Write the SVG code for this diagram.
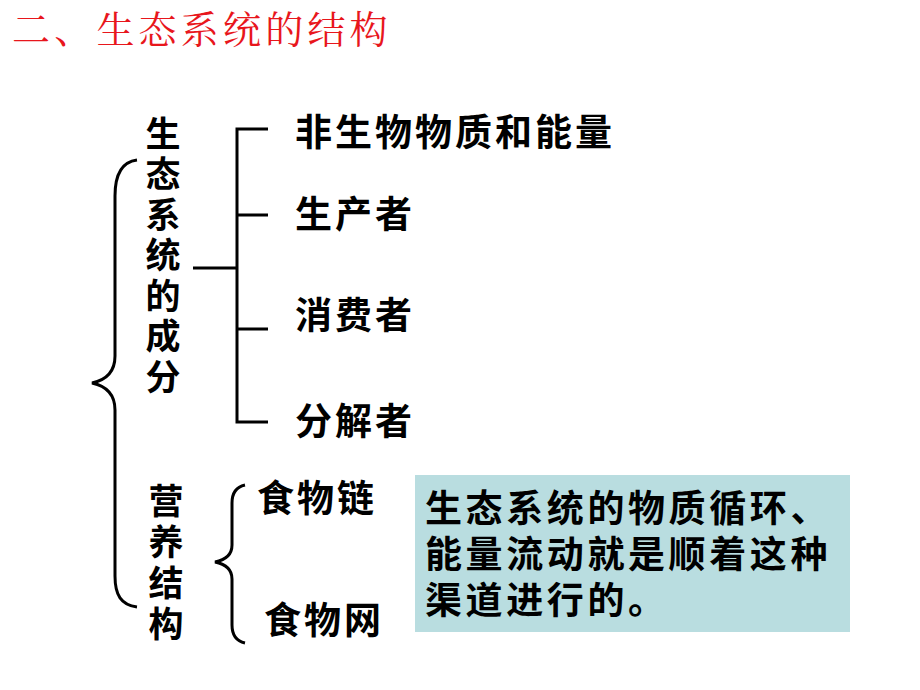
<svg xmlns="http://www.w3.org/2000/svg" width="920" height="690" viewBox="0 0 920 690">
<style>
.t{font-family:"Noto Sans CJK SC","Noto Sans CJK JP",sans-serif;font-weight:bold;fill:#000;font-size:37px;letter-spacing:3px}
.b{letter-spacing:3.6px}
.v{font-family:"Noto Sans CJK SC","Noto Sans CJK JP",sans-serif;font-weight:bold;fill:#000;font-size:35px;writing-mode:vertical-rl}
.title{font-family:"Noto Serif CJK SC","Noto Sans CJK SC",serif;fill:#e8161c;font-size:38px;letter-spacing:4.2px;font-weight:normal}
.ln{fill:none;stroke:#000;stroke-width:3}
</style>
<rect width="920" height="690" fill="#fff"/>
<g id="title"><text class="title" x="12" y="43">二、生态系统的结构</text></g>
<g id="connectors">
<path class="ln" d="M137,160 C121,162 115,175 115,196 L115,356 C115,372 106,380 92,383 C106,386 115,394 115,410 L115,576 C115,595 121,605 137,607"/>
<path class="ln" d="M193,268 L237,268 M268,129 L237,129 L237,422 L268,422 M237,215 L268,215 M237,329 L268,329"/>
<path class="ln" d="M245,485 C236,487 232,493 232,503 L232,545 C232,555 225,560 215,562 C225,564 232,569 232,579 L232,625 C232,635 236,641 245,643"/>
</g>
<g id="components"><text class="v" x="163" y="116" style="letter-spacing:5.5px">生态系统的成分</text></g>
<g id="trophic"><text class="v" x="166" y="483" style="letter-spacing:6px">营养结构</text></g>
<g id="abiotic"><text class="t" x="295" y="146">非生物物质和能量</text></g>
<g id="producer"><text class="t" x="295" y="228">生产者</text></g>
<g id="consumer"><text class="t" x="295" y="329">消费者</text></g>
<g id="decomposer"><text class="t" x="295" y="435">分解者</text></g>
<g id="foodchain"><text class="t" x="257" y="512">食物链</text></g>
<g id="foodweb"><text class="t" x="264" y="634">食物网</text></g>
<g id="note">
<rect x="415" y="475" width="435" height="157" fill="#b9dde0"/>
<text class="t b" x="425" y="522">生态系统的物质循环、</text>
<text class="t b" x="425" y="568">能量流动就是顺着这种</text>
<text class="t b" x="425" y="614">渠道进行的。</text>
</g>
</svg>
